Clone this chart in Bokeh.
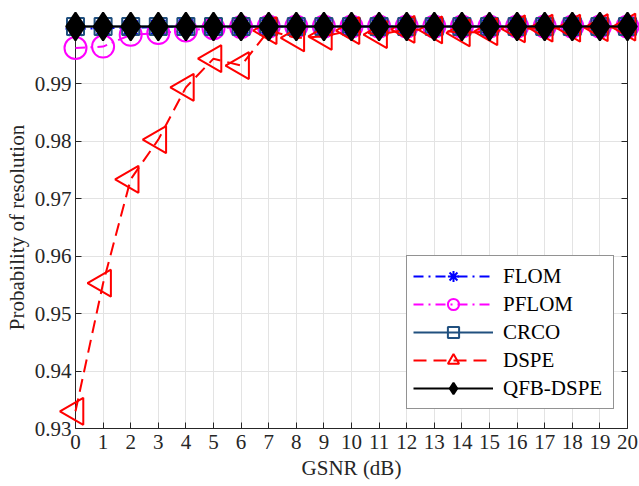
from bokeh.plotting import figure
from bokeh.models import Range1d, FixedTicker, LinearAxis, Legend, LegendItem, ColumnDataSource
from bokeh.embed import file_html
from bokeh.resources import INLINE

# ---- data ----
gsnr = [0, 1, 2, 3, 4, 5, 6, 7, 8, 9, 10, 11, 12, 13, 14, 15, 16, 17, 18, 19, 20]
flom = [0.9996, 0.9997, 0.9998, 0.9999, 1.0, 1.0, 1.0, 1.0, 1.0, 1.0, 1.0,
        1.0, 1.0, 1.0, 1.0, 1.0, 1.0, 1.0, 1.0, 1.0, 1.0]
pflom = [0.99625, 0.99650, 0.99855, 0.99885, 0.9993, 0.9997, 0.9999, 1.0, 1.0, 1.0, 1.0,
         1.0, 1.0, 1.0, 1.0, 1.0, 1.0, 1.0, 1.0, 1.0, 1.0]
crco = [1.0, 1.0, 1.0, 1.0, 1.0, 1.0, 1.0, 1.0, 1.0, 1.0, 1.0,
        1.0, 1.0, 1.0, 1.0, 1.0, 1.0, 1.0, 1.0, 1.0, 1.0]
dspe = [0.9330, 0.9553, 0.9734, 0.9803, 0.9894, 0.9944, 0.9932, 0.9993, 0.9980, 0.9983, 0.9993,
        0.9986, 0.9995, 0.9994, 0.9989, 0.9991, 0.9996, 0.9997, 0.9997, 0.9998, 0.9999]
qfb_dspe = [1.0, 1.0, 1.0, 1.0, 1.0, 1.0, 1.0, 1.0, 1.0, 1.0, 1.0,
            1.0, 1.0, 1.0, 1.0, 1.0, 1.0, 1.0, 1.0, 1.0, 1.0]
y_ticks = [0.93, 0.94, 0.95, 0.96, 0.97, 0.98, 0.99]
x_label = "GSNR (dB)"
y_label = "Probability of resolution"

FONT = "Liberation Serif"
TXT = "#262626"
FS = "21px"

p = figure(width=639, height=486, x_range=Range1d(0, 20), y_range=Range1d(0.93, 1.0),
           output_backend="svg", toolbar_location=None,
           min_border_left=75, min_border_right=12, min_border_top=26, min_border_bottom=58)
p.outline_line_color = None
p.background_fill_color = "white"
p.border_fill_color = "white"

def style_axis(ax, labels=True):
    ax.axis_line_color = TXT
    ax.axis_line_width = 1
    ax.major_tick_line_color = TXT
    ax.major_tick_in = 6
    ax.major_tick_out = 0
    ax.minor_tick_line_color = None
    ax.major_label_text_font = FONT
    ax.major_label_text_font_size = FS if labels else "0px"
    ax.major_label_text_color = TXT if labels else None
    ax.axis_label_text_font = FONT
    ax.axis_label_text_font_size = FS
    ax.axis_label_text_font_style = "normal"
    ax.axis_label_text_color = TXT

p.xaxis.ticker = FixedTicker(ticks=gsnr)
p.yaxis.ticker = FixedTicker(ticks=y_ticks)
p.xaxis.axis_label = x_label
p.yaxis.axis_label = y_label
style_axis(p.xaxis[0])
style_axis(p.yaxis[0])
p.xaxis.major_label_standoff = 6
p.yaxis.major_label_standoff = 4
p.xaxis.axis_label_standoff = 4
p.yaxis.axis_label_standoff = 3

right = LinearAxis(ticker=FixedTicker(ticks=y_ticks))
style_axis(right, labels=False)
p.add_layout(right, "right")
top = LinearAxis(ticker=FixedTicker(ticks=gsnr))
style_axis(top, labels=False)
p.add_layout(top, "above")

p.grid.grid_line_color = "#e3e3e3"
p.grid.grid_line_width = 1
p.xgrid.ticker = FixedTicker(ticks=gsnr)
p.ygrid.ticker = FixedTicker(ticks=y_ticks)

items = []
def series(name, ys, color, dash, marker, size, fill, angle=0.0):
    src = ColumnDataSource(dict(x=gsnr, y=ys, a=[angle] * len(gsnr)))
    l = p.line("x", "y", source=src, line_color=color, line_width=2, line_dash=dash, level="overlay")
    s = p.scatter("x", "y", source=src, marker=marker, size=size, angle="a", angle_units="deg",
                  line_color=color, line_width=2,
                  fill_color=fill, level="overlay")
    items.append(LegendItem(label=name, renderers=[l, s]))

series("FLOM", flom, "#0000ff", "10 5 2 5", "asterisk", 20, None)
series("PFLOM", pflom, "#ff00ff", "10 5 2 5", "circle", 22, None)
series("CRCO", crco, "#21507f", "solid", "square", 17, None)
series("DSPE", dspe, "#ff0000", "13 7", "triangle", 27, None, angle=90.0)
series("QFB-DSPE", qfb_dspe, "#000000", "solid", "diamond", 28, "#000000")

legend = Legend(items=items, location=(331, 19))
legend.label_text_font = FONT
legend.label_text_font_size = FS
legend.label_text_color = "#000000"
legend.glyph_width = 80
legend.glyph_height = 28
legend.label_height = 28
legend.label_width = 104
legend.spacing = 0
legend.padding = 6
legend.margin = 0
legend.label_standoff = 10
legend.border_line_color = TXT
legend.border_line_width = 1
legend.background_fill_alpha = 1
p.add_layout(legend)

open("out.html", "w").write(file_html(p, INLINE))
